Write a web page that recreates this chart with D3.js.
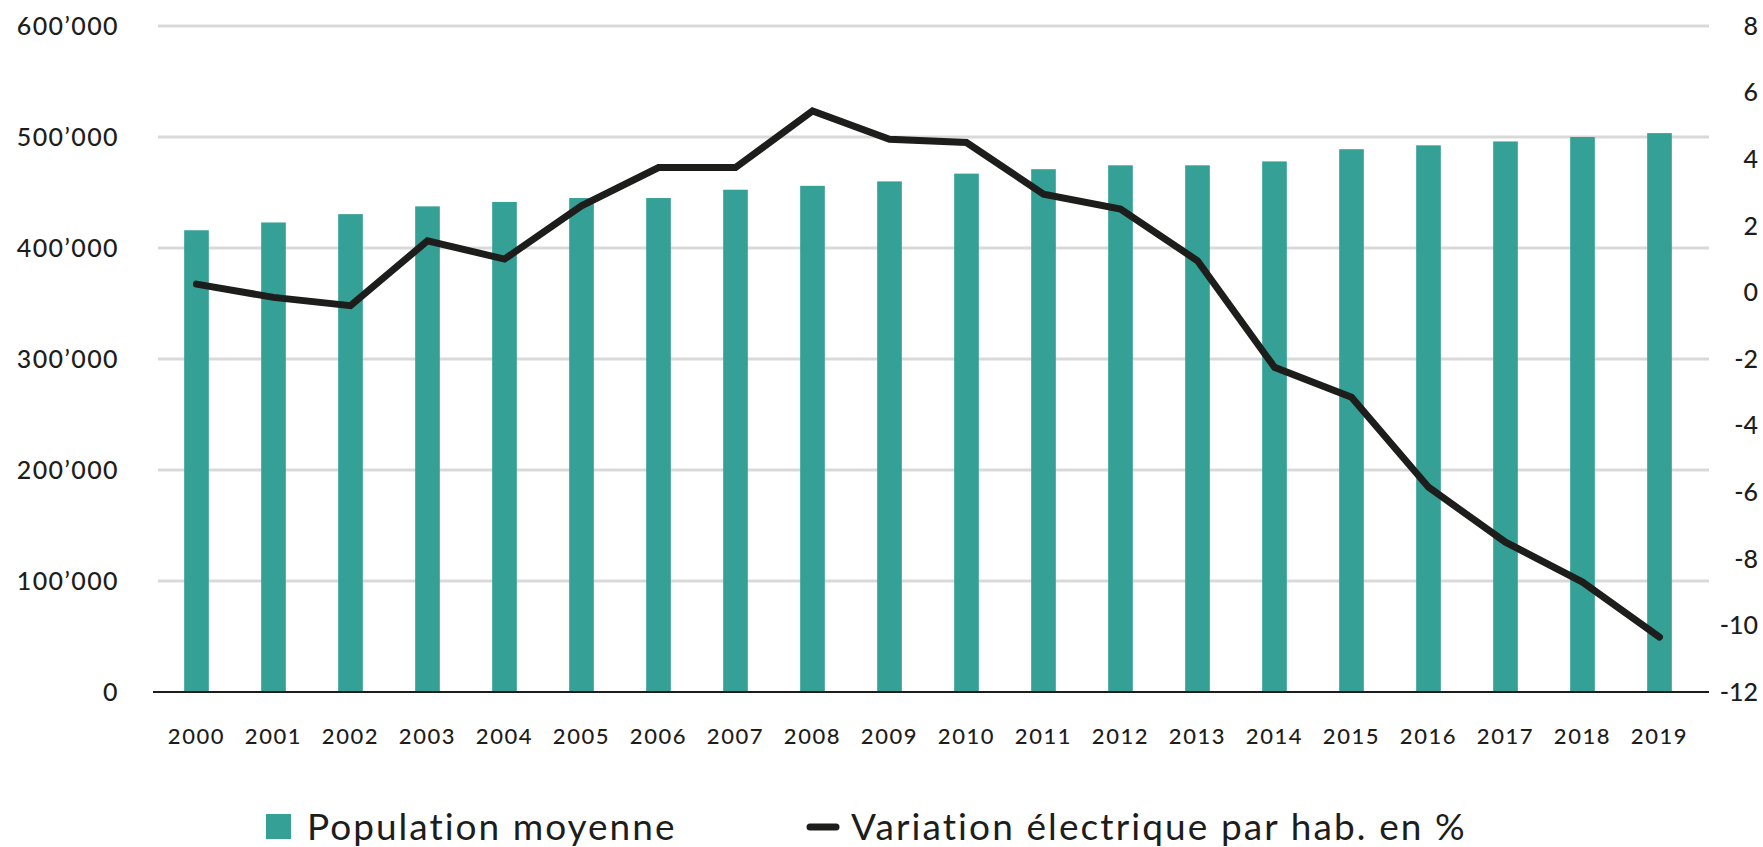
<!DOCTYPE html>
<html>
<head>
<meta charset="utf-8">
<script src="https://cdn.jsdelivr.net/npm/d3@7"></script>
<style>
  body { margin: 0; background: #fff; }
  text { font-family: "Lato", "Open Sans", sans-serif; fill: #1d1d1b; }
</style>
</head>
<body>
<div id="chart"></div>
<script>
// data
var years = ["2000","2001","2002","2003","2004","2005","2006","2007","2008","2009",
             "2010","2011","2012","2013","2014","2015","2016","2017","2018","2019"];
var population = [416000, 423000, 430500, 437500, 441500, 445000, 445000, 452500, 456000, 460000,
                  467000, 471000, 474500, 474500, 478000, 489000, 492500, 496000, 500000, 503500];
var variation = [0.25, -0.15, -0.4, 1.55, 1.0, 2.6, 3.75, 3.75, 5.45, 4.6,
                 4.5, 2.95, 2.5, 0.95, -2.25, -3.15, -5.85, -7.5, -8.7, -10.35];
var leftTicks = [0, 100000, 200000, 300000, 400000, 500000, 600000];
var rightTicks = [-12, -10, -8, -6, -4, -2, 0, 2, 4, 6, 8];
var legendLabels = ["Population moyenne", "Variation électrique par hab. en %"];

var W = 1763, H = 847;
var margin = {top: 26, right: 65, bottom: 155, left: 158};
var plotRight = 1698, gridRight = 1709;

var svg = d3.select("#chart").append("svg")
  .attr("width", W).attr("height", H);

var x = d3.scaleBand().domain(years).range([margin.left, plotRight]).paddingInner(0.68).paddingOuter(0.34);
var yL = d3.scaleLinear().domain([0, 600000]).range([H - margin.bottom, margin.top]);
var yR = d3.scaleLinear().domain([-12, 8]).range([H - margin.bottom, margin.top]);

// gridlines
svg.append("g").selectAll("line")
  .data(leftTicks.filter(function(d){ return d > 0; }))
  .enter().append("line")
    .attr("x1", margin.left).attr("x2", gridRight)
    .attr("y1", function(d){ return yL(d); }).attr("y2", function(d){ return yL(d); })
    .style("stroke", "#d9d9d9").style("stroke-width", 3);

// left axis labels
var fmt = function(d){ return d3.format(",")(d).replace(/,/g, "\u2019"); };
svg.append("g").selectAll("text")
  .data(leftTicks).enter().append("text")
    .attr("x", 119).attr("y", function(d){ return yL(d); })
    .attr("dy", "0.35em").attr("text-anchor", "end")
    .style("font-size", "25px").style("font-weight", 500).style("letter-spacing", "1.4px")
    .text(fmt);

// right axis labels
svg.append("g").selectAll("text")
  .data(rightTicks).enter().append("text")
    .attr("x", 1758).attr("y", function(d){ return yR(d); })
    .attr("dy", "0.35em").attr("text-anchor", "end")
    .style("font-size", "25px").style("font-weight", 500)
    .text(function(d){ return d; });

// bars
svg.append("g").selectAll("rect")
  .data(years).enter().append("rect")
    .attr("x", function(d){ return x(d); })
    .attr("width", x.bandwidth())
    .attr("y", function(d, i){ return yL(population[i]); })
    .attr("height", function(d, i){ return yL(0) - yL(population[i]); })
    .style("fill", "#35a096");

// baseline
svg.append("line")
  .attr("x1", 153).attr("x2", gridRight)
  .attr("y1", yL(0)).attr("y2", yL(0))
  .style("stroke", "#1d1d1b").style("stroke-width", 2);

// x labels
svg.append("g").selectAll("text")
  .data(years).enter().append("text")
    .attr("x", function(d){ return x(d) + x.bandwidth() / 2; })
    .attr("y", 736).attr("dy", "0.35em").attr("text-anchor", "middle")
    .style("font-size", "22px").style("font-weight", 500).style("letter-spacing", "1.6px")
    .text(function(d){ return d; });

// line
var line = d3.line()
  .x(function(d, i){ return x(years[i]) + x.bandwidth() / 2; })
  .y(function(d){ return yR(d); });
svg.append("path")
  .datum(variation)
  .attr("d", line)
  .style("fill", "none").style("stroke", "#1d1d1b")
  .style("stroke-width", 7).style("stroke-linejoin", "miter").style("stroke-linecap", "round");

// legend
var lg = svg.append("g");
lg.append("rect").attr("x", 266).attr("y", 814).attr("width", 25).attr("height", 25).style("fill", "#35a096");
lg.append("text").attr("x", 307).attr("y", 827).attr("dy", "0.35em")
  .style("font-size", "37px").style("letter-spacing", "2px").text(legendLabels[0]);
lg.append("line").attr("x1", 810).attr("x2", 836).attr("y1", 827).attr("y2", 827)
  .style("stroke", "#1d1d1b").style("stroke-width", 7).style("stroke-linecap", "round");
lg.append("text").attr("x", 851).attr("y", 827).attr("dy", "0.35em")
  .style("font-size", "37px").style("letter-spacing", "2.1px").text(legendLabels[1]);
</script>
</body>
</html>
